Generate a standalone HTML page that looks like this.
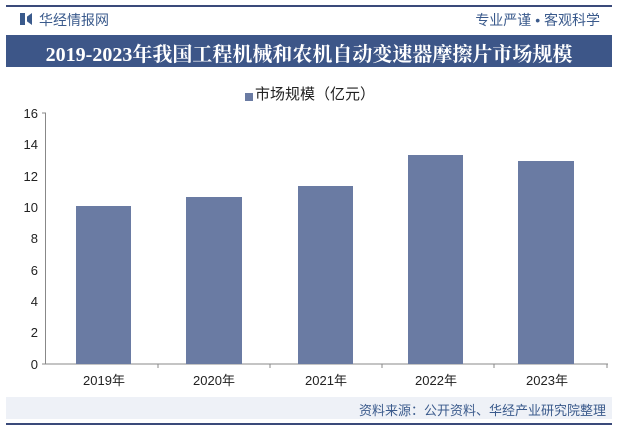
<!DOCTYPE html><html><head><meta charset="utf-8"><style>
body{margin:0;width:618px;height:431px;background:#fff;position:relative;font-family:"Liberation Sans","Noto Sans CJK SC",sans-serif;overflow:hidden}
.a{position:absolute}
</style></head><body>
<div class="a" style="left:6px;top:5px;width:606px;height:2px;background:#3a4a7a"></div>
<div class="a" style="left:20px;top:13px;width:5px;height:12px;background:#3a5a8c"></div>
<div class="a" style="left:27px;top:13px;width:5px;height:12px;background:#3a5a8c;clip-path:polygon(0 30%,100% 0,100% 100%,0 70%)"></div>
<div class="a" style="left:39px;top:10px;font-size:14px;color:#3a5a8c">华经情报网</div>
<div class="a" style="right:18px;top:10px;font-size:14px;color:#3a5a8c">专业严谨 • 客观科学</div>
<div class="a" style="left:6px;top:35px;width:606px;height:32px;background:#3d5688"></div>
<div class="a" style="left:6px;top:38px;width:606px;text-align:center;font-family:'Liberation Serif','Noto Serif CJK SC',serif;font-weight:bold;font-size:20px;color:#fff">2019-2023年我国工程机械和农机自动变速器摩擦片市场规模</div>
<div class="a" style="left:245px;top:93px;width:8px;height:8px;background:#6a7ba3"></div>
<div class="a" style="left:255px;top:83px;font-size:15px;color:#222">市场规模（亿元）</div>
<svg class="a" style="left:0;top:0" width="618" height="431">
<g font-size="13" fill="#222" text-anchor="end" font-family="Liberation Sans">
<text x="38" y="118">16</text><text x="38" y="149">14</text><text x="38" y="181">12</text><text x="38" y="212">10</text><text x="38" y="243">8</text><text x="38" y="275">6</text><text x="38" y="306">4</text><text x="38" y="337">2</text><text x="38" y="369">0</text>
</g>
<g stroke="#888" stroke-width="1">
<line x1="45.5" y1="113" x2="45.5" y2="364"/><line x1="42" y1="113" x2="46" y2="113"/>
<line x1="42" y1="364" x2="608" y2="364"/>
<line x1="158" y1="364" x2="158" y2="368"/><line x1="270" y1="364" x2="270" y2="368"/><line x1="382" y1="364" x2="382" y2="368"/><line x1="494" y1="364" x2="494" y2="368"/><line x1="607" y1="364" x2="607" y2="368"/>
</g>
<g fill="#6a7ba3">
<rect x="76" y="206" width="55" height="158"/>
<rect x="186" y="197" width="56" height="167"/>
<rect x="298" y="186" width="55" height="178"/>
<rect x="408" y="155" width="55" height="209"/>
<rect x="518" y="161" width="56" height="203"/>
</g>
<g font-size="13" fill="#222" text-anchor="middle">
<text x="104" y="385">2019年</text><text x="214" y="385">2020年</text><text x="326" y="385">2021年</text><text x="436" y="385">2022年</text><text x="547" y="385">2023年</text>
</g>
</svg>
<div class="a" style="left:6px;top:397px;width:606px;height:22px;background:#eef1f7"></div>
<div class="a" style="right:12px;top:400px;font-size:13px;color:#3a5a8c">资料来源：公开资料、华经产业研究院整理</div>
<div class="a" style="left:6px;top:423px;width:606px;height:2px;background:#3a4a7a"></div>
</body></html>
